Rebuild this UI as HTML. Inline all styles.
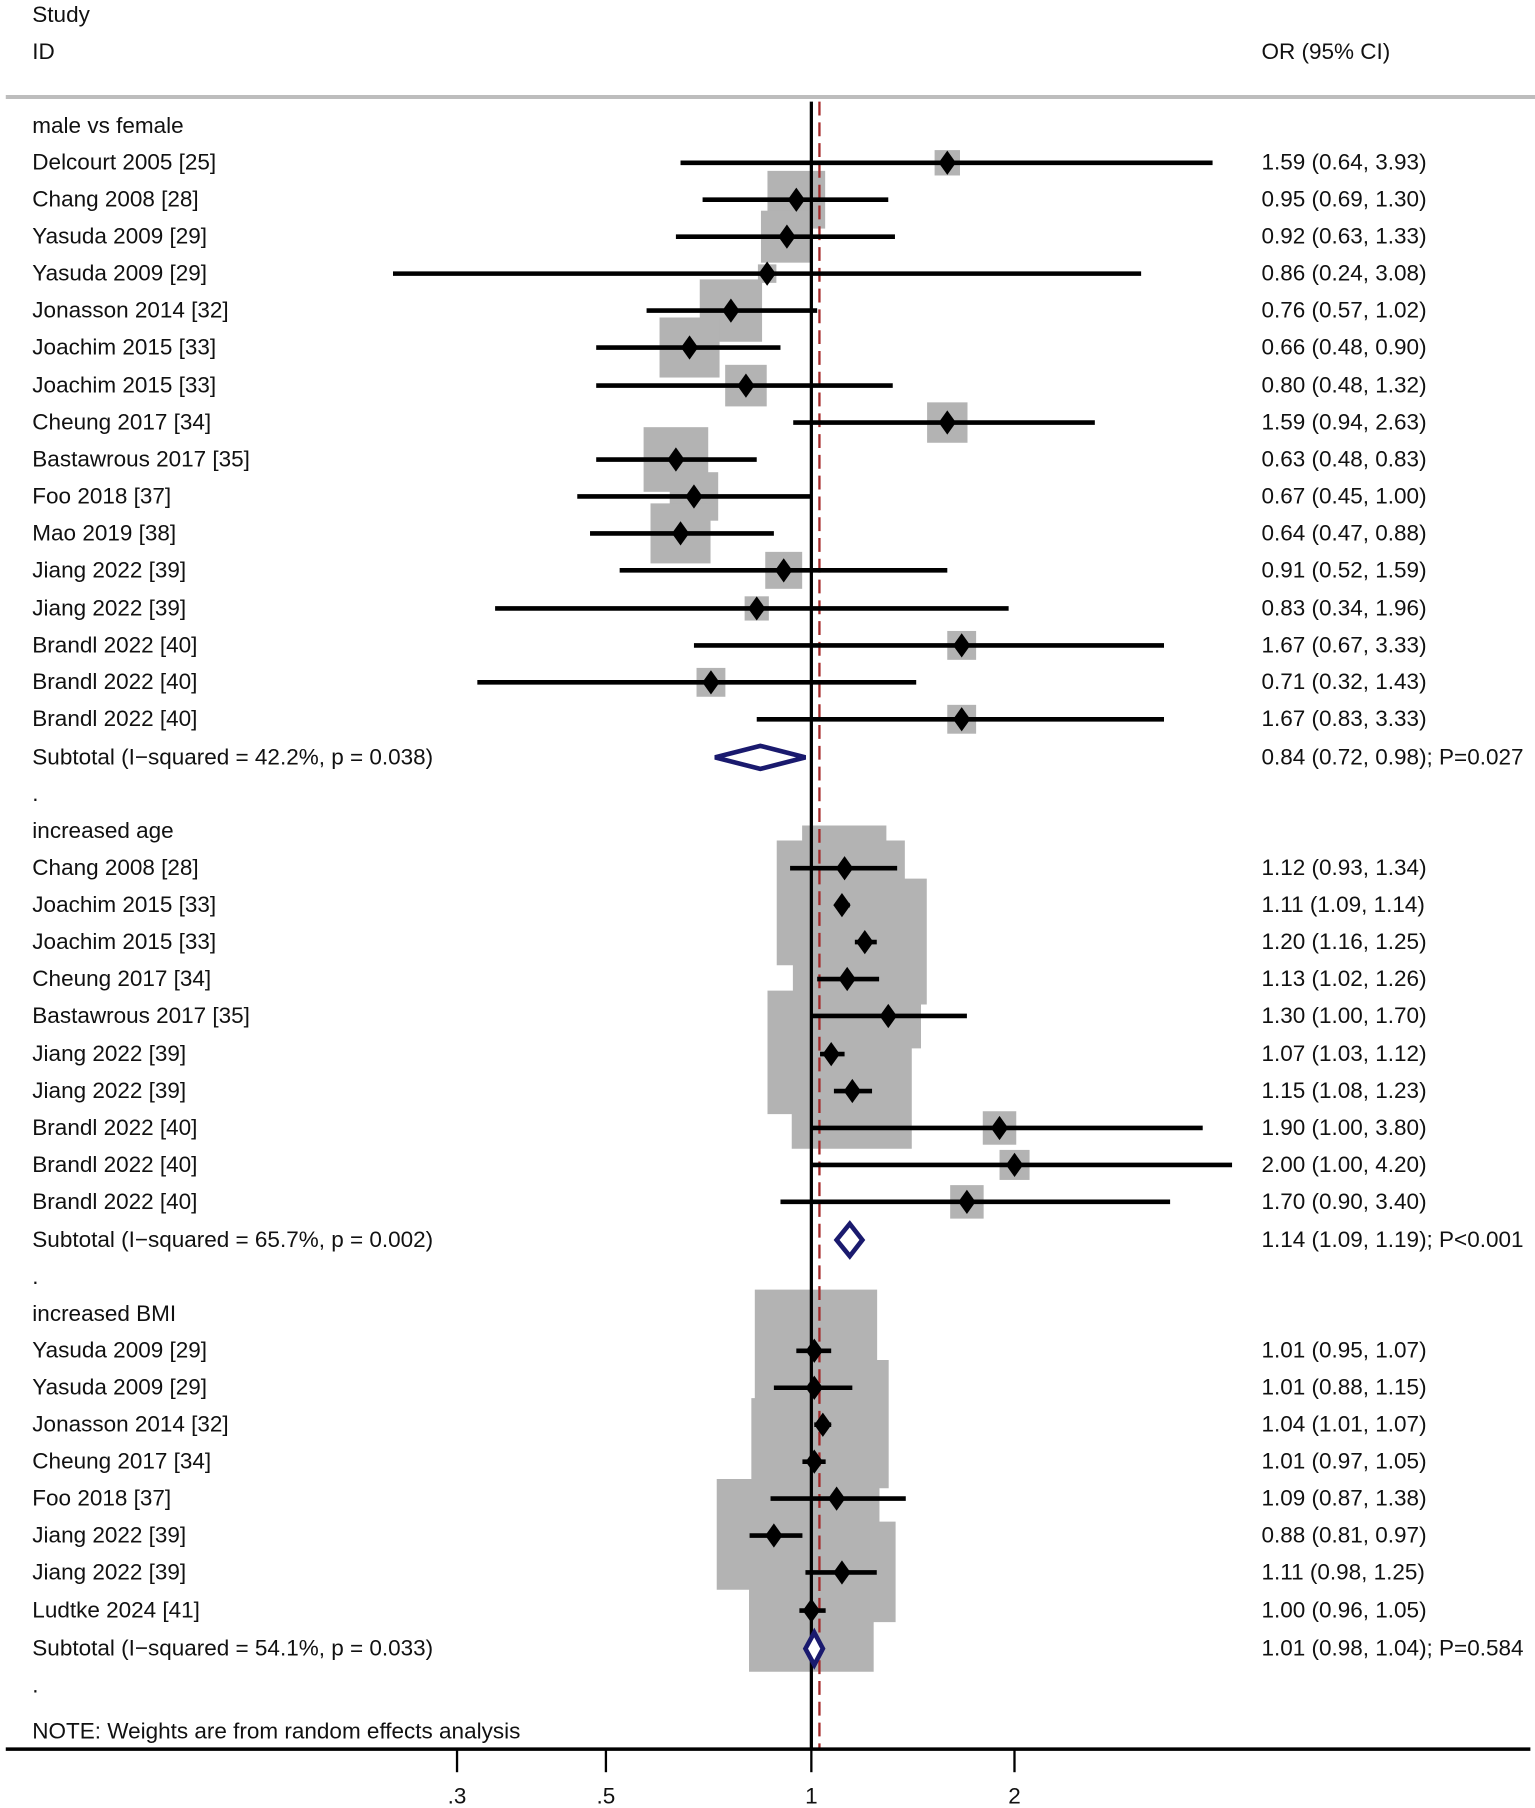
<!DOCTYPE html>
<html><head><meta charset="utf-8"><style>
html,body{margin:0;padding:0;background:#fff;}
svg{display:block;}
text{font-family:"Liberation Sans",sans-serif;font-size:19.5px;fill:#111;}
</style></head><body>
<svg id="s" width="1535" height="1808" viewBox="0 0 1330 1566" preserveAspectRatio="none" xmlns="http://www.w3.org/2000/svg">
<rect width="1330" height="1566" fill="#fff"/>
<text x="28" y="19">Study</text>
<text x="28" y="51">ID</text>
<text x="1093" y="51">OR (95% CI)</text>
<line x1="5" y1="84" x2="1330" y2="84" stroke="#bdbdbd" stroke-width="3.5"/>
<g id="boxes" fill="#b3b3b3">
<polygon points="695,715 768,715 768,728 784,728 784,761 803,761 803,870 798,870 798,908 790,908 790,995 686,995 686,965 665,965 665,858 687,858 687,836 673,836 673,728 695,728"/>
<polygon points="654,1117 760,1117 760,1178 770,1178 770,1289 762,1289 762,1318 776,1318 776,1405 757,1405 757,1448 649,1448 649,1377 621,1377 621,1281 651,1281 651,1211 654,1211"/>
</g>
<line x1="703" y1="88" x2="703" y2="1515" stroke="#000" stroke-width="2.8"/>
<line x1="710" y1="88" x2="710" y2="1515" stroke="#a52a2a" stroke-width="2" stroke-dasharray="12,6"/>
<g id="g"></g>
<line x1="5" y1="1515" x2="1326" y2="1515" stroke="#000" stroke-width="3"/>
<g stroke="#000" stroke-width="2">
<line x1="396" y1="1515" x2="396" y2="1535"/><line x1="525" y1="1515" x2="525" y2="1535"/>
<line x1="703" y1="1515" x2="703" y2="1535"/><line x1="879" y1="1515" x2="879" y2="1535"/>
</g>
<g text-anchor="middle">
<text x="396" y="1562">.3</text><text x="525" y="1562">.5</text><text x="703" y="1562">1</text><text x="879" y="1562">2</text>
</g>
<text x="28" y="1506">NOTE: Weights are from random effects analysis</text>
</svg>
<script>
var NS="http://www.w3.org/2000/svg",g=document.getElementById("g"),bx=document.getElementById("boxes");
function X(v){return 703+254*Math.log(v);}
function el(p,t,a,txt){var e=document.createElementNS(NS,t);for(var k in a)e.setAttribute(k,a[k]);if(txt!==undefined)e.textContent=txt;p.appendChild(e);return e;}
var rows=[
["h","male vs female"],
["d","Delcourt 2005 [25]",1.59,0.64,3.93,22],
["d","Chang 2008 [28]",0.95,0.69,1.30,50],
["d","Yasuda 2009 [29]",0.92,0.63,1.33,45],
["d","Yasuda 2009 [29]",0.86,0.24,3.08,16],
["d","Jonasson 2014 [32]",0.76,0.57,1.02,54],
["d","Joachim 2015 [33]",0.66,0.48,0.90,52],
["d","Joachim 2015 [33]",0.80,0.48,1.32,36],
["d","Cheung 2017 [34]",1.59,0.94,2.63,35],
["d","Bastawrous 2017 [35]",0.63,0.48,0.83,56],
["d","Foo 2018 [37]",0.67,0.45,1.00,42],
["d","Mao 2019 [38]",0.64,0.47,0.88,52],
["d","Jiang 2022 [39]",0.91,0.52,1.59,32],
["d","Jiang 2022 [39]",0.83,0.34,1.96,21],
["d","Brandl 2022 [40]",1.67,0.67,3.33,25],
["d","Brandl 2022 [40]",0.71,0.32,1.43,25],
["d","Brandl 2022 [40]",1.67,0.83,3.33,25],
["s","Subtotal  (I\u2212squared = 42.2%, p = 0.038)",0.84,0.72,0.98,10,"0.84 (0.72, 0.98); P=0.027"],
["h","."],
["h","increased age"],
["d","Chang 2008 [28]",1.12,0.93,1.34,0],
["d","Joachim 2015 [33]",1.11,1.09,1.14,0],
["d","Joachim 2015 [33]",1.20,1.16,1.25,0],
["d","Cheung 2017 [34]",1.13,1.02,1.26,0],
["d","Bastawrous 2017 [35]",1.30,1.00,1.70,0],
["d","Jiang 2022 [39]",1.07,1.03,1.12,0],
["d","Jiang 2022 [39]",1.15,1.08,1.23,0],
["d","Brandl 2022 [40]",1.90,1.00,3.80,29],
["d","Brandl 2022 [40]",2.00,1.00,4.20,26],
["d","Brandl 2022 [40]",1.70,0.90,3.40,29],
["s","Subtotal  (I\u2212squared = 65.7%, p = 0.002)",1.14,1.09,1.19,14,"1.14 (1.09, 1.19); P<0.001"],
["h","."],
["h","increased BMI"],
["d","Yasuda 2009 [29]",1.01,0.95,1.07,0],
["d","Yasuda 2009 [29]",1.01,0.88,1.15,0],
["d","Jonasson 2014 [32]",1.04,1.01,1.07,0],
["d","Cheung 2017 [34]",1.01,0.97,1.05,0],
["d","Foo 2018 [37]",1.09,0.87,1.38,0],
["d","Jiang 2022 [39]",0.88,0.81,0.97,0],
["d","Jiang 2022 [39]",1.11,0.98,1.25,0],
["d","Ludtke 2024 [41]",1.00,0.96,1.05,0],
["s","Subtotal  (I\u2212squared = 54.1%, p = 0.033)",1.01,0.98,1.04,14,"1.01 (0.98, 1.04); P=0.584"],
["h","."]
];
var rowH=[109,141,173,205,237,269,301,334,366,398,430,462,494,527,559,591,623,656,688,720,752,784,816,848,880,913,945,977,1009,1041,1074,1106,1138,1170,1202,1234,1266,1298,1330,1362,1395,1428,1460];
function f(v){return v.toFixed(2);}
rows.forEach(function(r,i){
 var y=rowH[i];
 el(g,"text",{x:28,y:y+6,"xml:space":"preserve"},r[1]);
 if(r[0]=="d"){
  var x=X(r[2]),x1=X(r[3]),x2=X(r[4]),b=r[5];
  if(b>0)el(bx,"rect",{x:x-b/2,y:y-b/2,width:b,height:b});
  el(g,"line",{x1:x1,y1:y,x2:x2,y2:y,stroke:"#000","stroke-width":4});
  el(g,"polygon",{points:(x-7.5)+","+y+" "+x+","+(y-10.5)+" "+(x+7.5)+","+y+" "+x+","+(y+10.5),fill:"#000"});
  el(g,"text",{x:1093,y:y+6},f(r[2])+" ("+f(r[3])+", "+f(r[4])+")");
 } else if(r[0]=="s"){
  var x=X(r[2]),x1=X(r[3]),x2=X(r[4]),h=r[5];
  el(g,"polygon",{points:x1+","+y+" "+x+","+(y-h)+" "+x2+","+y+" "+x+","+(y+h),fill:"#fff",stroke:"#1a1a6e","stroke-width":4});
  el(g,"text",{x:1093,y:y+6},r[6]);
 }
});
</script>
</body></html>
